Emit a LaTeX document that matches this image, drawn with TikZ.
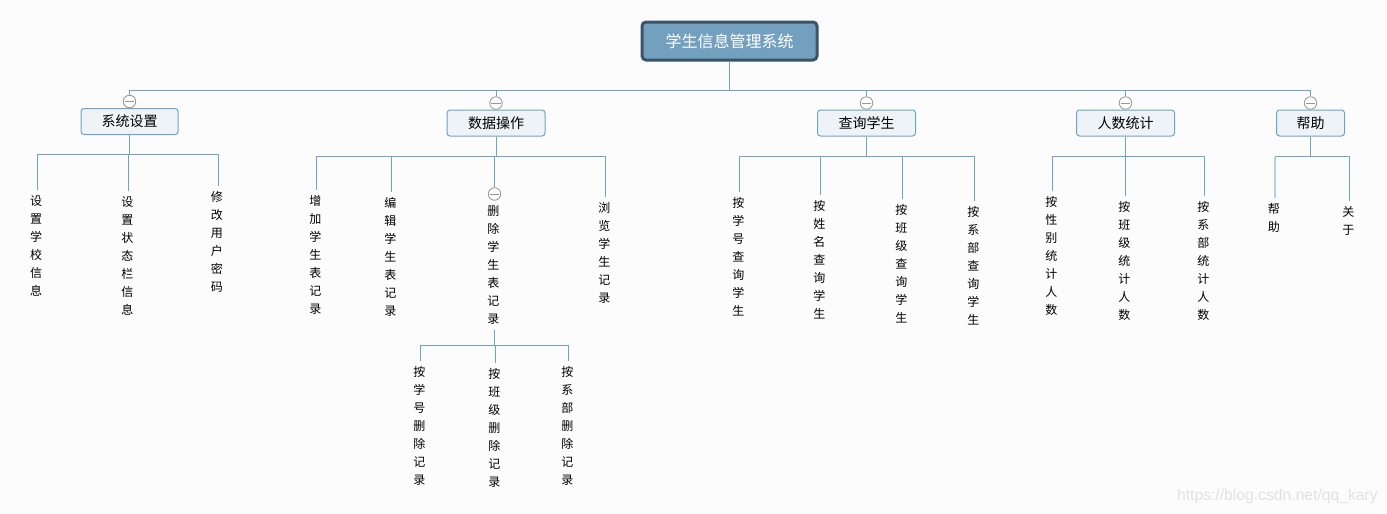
\documentclass[tikz,border=0pt]{standalone}
\usepackage{fontspec}
\setmainfont{Noto Sans CJK SC}
\newfontfamily\markfont{Liberation Sans}
\XeTeXlinebreaklocale "zh"
\XeTeXlinebreakskip=0pt
\usetikzlibrary{shapes, arrows.meta, positioning, calc}
\definecolor{pagebg}{RGB}{252, 252, 252}
\definecolor{linkblue}{RGB}{111, 163, 199}
\definecolor{linkpale}{RGB}{181, 208, 224}
\definecolor{rootfill}{RGB}{116, 160, 192}
\definecolor{rootedge}{RGB}{58, 84, 104}
\definecolor{branchfill}{RGB}{238, 243, 247}
\definecolor{foldgray}{RGB}{150, 150, 150}
\definecolor{markgray}{RGB}{226, 226, 226}
\tikzset{
  rootbox/.style={draw=rootedge, fill=rootfill, line width=3pt, rounded corners=4pt, text=white,
    minimum width=175pt, minimum height=38pt, inner sep=0pt, font=\fontsize{16}{18}\selectfont},
  branchbox/.style={draw=linkblue, fill=branchfill, line width=1pt, rounded corners=3pt,
    minimum height=26pt, inner sep=0pt, font=\fontsize{14}{16}\selectfont},
  leaf/.style={anchor=north, text width=14.5pt, align=left, inner xsep=0pt, inner ysep=5.5pt,
    font=\fontsize{12}{18}\selectfont},
  fold/.style={draw=foldgray, fill=white, circle, line width=0.8pt, minimum size=12.5pt, inner sep=0pt,
    path picture={\draw[foldgray, line width=0.8pt] ([xshift=1.5pt]path picture bounding box.west) -- ([xshift=-1.5pt]path picture bounding box.east);}},
  link/.style={draw=linkblue, line width=1pt},
  palelink/.style={draw=linkpale, line width=2pt}
}
\begin{document}
\begin{tikzpicture}[x=1pt, y=-1pt]
  \fill[pagebg] (0, 0) rectangle (1387, 514);
  \useasboundingbox (0, 0) rectangle (1387, 514);

  % Root and main bus
  \node[rootbox] (root) at (729.5, 41) {学生信息管理系统};
  \coordinate (mainbus) at (729.5, 90.5);
  \draw[link] (root.south) -- (mainbus);

  % Branches
  \node[branchbox, minimum width=97pt] (sys) at (129.5, 121.5) {系统设置};
  \node[branchbox, minimum width=98pt] (data) at (496, 123) {数据操作};
  \node[branchbox, minimum width=98pt] (query) at (866.5, 123) {查询学生};
  \node[branchbox, minimum width=98pt] (count) at (1125.5, 123) {人数统计};
  \node[branchbox, minimum width=68pt] (help) at (1310.5, 123) {帮助};

  % Fold marks
  \node[fold] (sysfold) at (129.5, 101.5) {};
  \node[fold] (datafold) at (496, 103) {};
  \node[fold] (queryfold) at (866.5, 103) {};
  \node[fold] (countfold) at (1125.5, 103) {};
  \node[fold] (helpfold) at (1310.5, 103) {};
  \foreach \b in {sys, data, query, count, help} {
    \draw[link] (mainbus) -| (\b fold.north);
  }

  % Leaves of sys
  \node[leaf] (sysa) at (37.5, 190) {设置学校信息};
  \node[leaf] (sysb) at (128.5, 191) {设置状态栏信息};
  \node[leaf] (sysc) at (218, 186) {修改用户密码};
  \coordinate (sysbus) at (129.5, 154.5);
  \draw[link] (sys.south) -- (sysbus);
  \foreach \n in {sysa, sysb, sysc} {
    \draw[link] (sysbus) -| (\n.north);
  }

  % Leaves of data
  \node[leaf] (dataa) at (316.5, 190) {增加学生表记录};
  \node[leaf] (datab) at (391.5, 192) {编辑学生表记录};
  \node[fold] (delfold) at (494.5, 194) {};
  \node[leaf] (datac) at (494.5, 200) {删除学生表记录};
  \node[leaf] (datad) at (605.5, 197) {浏览学生记录};
  \coordinate (databus) at (496, 156.5);
  \draw[link] (data.south) -- (databus);
  \foreach \n in {dataa, datab, delfold, datad} {
    \draw[link] (databus) -| (\n.north);
  }

  % Leaves of datac
  \node[leaf] (dela) at (420.5, 361) {按学号删除记录};
  \node[leaf] (delb) at (495.5, 363) {按班级删除记录};
  \node[leaf] (delc) at (568.5, 361) {按系部删除记录};
  \coordinate (delbus) at (494.5, 345.5);
  \draw[link] (datac.south) -- (delbus);
  \foreach \n in {dela, delb, delc} {
    \draw[link] (delbus) -| (\n.north);
  }

  % Leaves of query
  \node[leaf] (querya) at (739.5, 192) {按学号查询学生};
  \node[leaf] (queryb) at (820.5, 195) {按姓名查询学生};
  \node[leaf] (queryc) at (902.5, 199) {按班级查询学生};
  \node[leaf] (queryd) at (974.5, 201) {按系部查询学生};
  \coordinate (querybus) at (866.5, 156.5);
  \draw[link] (query.south) -- (querybus);
  \foreach \n in {querya, queryb, queryc, queryd} {
    \draw[link] (querybus) -| (\n.north);
  }

  % Leaves of count
  \node[leaf] (counta) at (1052.5, 191) {按性别统计人数};
  \node[leaf] (countb) at (1125.5, 196) {按班级统计人数};
  \node[leaf] (countc) at (1204.5, 196) {按系部统计人数};
  \coordinate (countbus) at (1125.5, 156.5);
  \draw[link] (count.south) -- (countbus);
  \foreach \n in {counta, countb, countc} {
    \draw[link] (countbus) -| (\n.north);
  }

  % Leaves of help
  \node[leaf] (helpa) at (1275, 198) {帮助};
  \node[leaf] (helpb) at (1349.5, 201) {关于};
  \coordinate (helpbus) at (1310.5, 156.5);
  \draw[link] (help.south) -- (helpbus);
  \draw[palelink] (helpbus -| helpa.north) -- (helpa.north);
  \draw[link] (helpbus) -| (helpb.north);
  \draw[link] (helpbus) -- (helpbus -| helpa.north);

  \node[font=\markfont\fontsize{15.7}{18}\selectfont, text=markgray, anchor=east, inner sep=0pt] (watermark) at (1378, 496) {https://blog.csdn.net/qq\_kary};
\end{tikzpicture}
\end{document}
